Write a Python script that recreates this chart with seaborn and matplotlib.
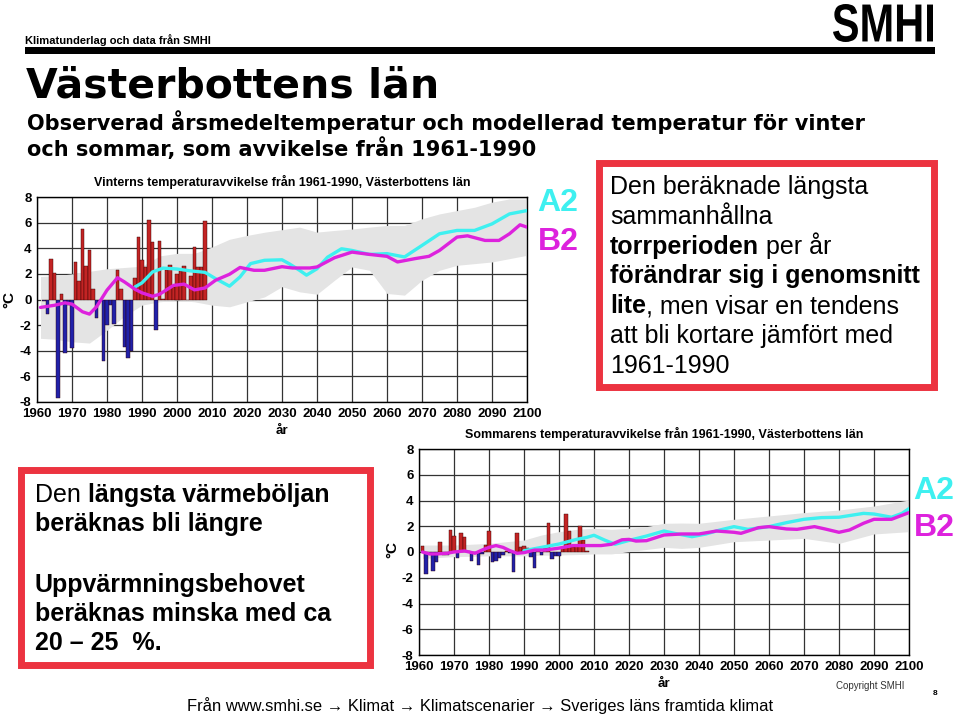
import matplotlib
matplotlib.use("Agg")
import matplotlib.pyplot as plt
import seaborn as sns
import numpy as np
import pandas as pd
from matplotlib.font_manager import FontProperties
from matplotlib.patches import Rectangle, PathPatch
from matplotlib.textpath import TextPath
from matplotlib.transforms import Affine2D

# --- vinter: observerade avvikelser (staplar) ---
vinter_ar = list(range(1962, 2009))
vinter_temp = [-0.1, -1.15, 3.2, 2.1, -7.7, 0.4, -4.15, -0.4, -3.75, 2.9,
               1.45, 5.5, 2.6, 3.9, 0.8, -1.45, -0.1, -4.8, -2.0, -0.4,
               -1.95, 2.3, 0.8, -3.7, -4.6, -4.0, 1.65, 4.9, 3.05, 2.55,
               6.2, 4.5, -2.35, 4.6, 0.05, 2.3, 2.7, 0.95, 2.0, 2.2,
               2.65, 0.0, 1.8, 4.1, 2.5, 2.5, 6.1]

# vinter: modellerat spann (grått band)
vinter_band_ar = [1961, 1965, 1970, 1975, 1980, 1985, 1990, 1995, 2000, 2005,
                  2010, 2015, 2020, 2025, 2030, 2035, 2040, 2045, 2050, 2055,
                  2060, 2065, 2070, 2075, 2080, 2085, 2090, 2095, 2100]
vinter_band_hog = [1.8, 1.85, 2.0, 2.2, 2.4, 2.5, 2.6, 3.4, 3.6, 3.6,
                   4.1, 4.7, 5.0, 5.25, 5.45, 5.65, 5.26, 5.39, 5.5, 5.65,
                   5.78, 5.78, 6.3, 6.68, 6.94, 7.2, 7.6, 7.85, 7.85]
vinter_band_lag = [-3.03, -3.1, -3.3, -3.4, -2.4, -1.3, -0.44, -0.18, -0.05, -0.18,
                   -0.44, -0.57, -0.18, 0.2, 1.0, 0.6, 0.41, 1.5, 2.54, 2.28,
                   0.47, 0.34, 1.5, 2.28, 2.67, 2.8, 2.93, 3.19, 3.45]

# vinter: scenario A2 och B2
vinter_a2_ar = [1988, 1990, 1993, 1996, 2000, 2004, 2008, 2011, 2015, 2018,
                2021, 2025, 2030, 2032, 2035, 2037, 2040, 2043, 2047, 2050,
                2055, 2060, 2065, 2070, 2075, 2080, 2085, 2090, 2095, 2100]
vinter_a2 = [0.98, 1.3, 2.15, 2.45, 2.38, 2.23, 2.12, 1.63, 1.04, 1.76,
             2.8, 3.06, 3.1, 2.8, 2.28, 1.9, 2.4, 3.3, 3.96, 3.83,
             3.52, 3.58, 3.32, 4.22, 5.13, 5.39, 5.39, 5.9, 6.68, 6.94]
vinter_b2_ar = [1961, 1965, 1968, 1970, 1973, 1975, 1977, 1980, 1983, 1985,
                1988, 1990, 1993, 1995, 1999, 2002, 2005, 2008, 2011, 2015,
                2018, 2022, 2025, 2030, 2033, 2038, 2040, 2045, 2050, 2055,
                2060, 2063, 2068, 2072, 2075, 2080, 2083, 2088, 2092, 2095,
                2098, 2100]
vinter_b2 = [-0.62, -0.45, -0.26, -0.36, -0.96, -1.14, -0.57, 0.73, 1.7, 1.37,
             0.8, 0.52, 0.25, 0.41, 1.1, 1.2, 0.75, 0.9, 1.5, 1.97,
             2.5, 2.28, 2.28, 2.56, 2.46, 2.46, 2.54, 3.26, 3.7, 3.52,
             3.37, 2.93, 3.19, 3.37, 3.83, 4.87, 4.97, 4.61, 4.61, 5.13,
             5.83, 5.65]

# --- sommar: observerade avvikelser (staplar) ---
sommar_ar = list(range(1961, 2009))
sommar_temp = [0.5, -1.7, -0.15, -1.5, -0.8, 0.78, -0.25, -0.2, 1.7, 1.24,
               -0.5, 1.45, 1.14, 0.1, -0.7, -0.1, -1.0, -0.15, 0.55, 1.63,
               -0.8, -0.7, -0.5, -0.2, 0.05, -0.05, -1.53, 1.5, 0.4, 0.45,
               0.3, -0.4, -1.27, 0.15, -0.23, 0.3, 2.23, -0.57, -0.3, -0.3,
               0.4, 2.95, 1.65, 0.4, 0.45, 2.0, 0.93, 0.1]

sommar_band_ar = [1961, 1970, 1980, 1985, 1990, 1995, 2000, 2005, 2010, 2015,
                  2020, 2025, 2030, 2035, 2040, 2050, 2060, 2070, 2080, 2090, 2100]
sommar_band_hog = [0.54, 0.54, 0.67, 0.8, 0.93, 1.32, 1.58, 1.76, 1.84, 1.76,
                   1.84, 1.97, 2.23, 2.25, 2.23, 2.54, 2.8, 3.06, 3.26, 3.57, 4.04]
sommar_band_lag = [-0.5, -0.36, -0.3, -0.3, -0.3, -0.25, -0.23, -0.2, -0.15, -0.15,
                   0.03, 0.2, 0.36, 0.28, 0.36, 0.8, 0.93, 1.06, 0.67, 1.4, 1.58]

sommar_a2_ar = [1990, 1995, 2000, 2005, 2008, 2010, 2013, 2016, 2020, 2025,
                2030, 2033, 2038, 2042, 2046, 2050, 2054, 2060, 2065, 2070,
                2075, 2080, 2087, 2090, 2095, 2098, 2100]
sommar_a2 = [0.1, 0.36, 0.62, 0.98, 1.14, 1.3, 0.93, 0.6, 0.9, 1.24,
             1.63, 1.45, 1.19, 1.4, 1.71, 1.97, 1.76, 1.97, 2.28, 2.54,
             2.67, 2.7, 3.0, 2.95, 2.7, 3.0, 3.37]
sommar_b2_ar = [1961, 1963, 1965, 1968, 1970, 1973, 1976, 1978, 1980, 1982,
                1984, 1986, 1988, 1990, 1993, 1996, 2000, 2004, 2008, 2012,
                2015, 2018, 2020, 2022, 2025, 2030, 2035, 2040, 2045, 2050,
                2052, 2057, 2060, 2065, 2068, 2073, 2076, 2080, 2083, 2087,
                2090, 2095, 2100]
sommar_b2 = [0.0, -0.15, -0.15, -0.1, 0.0, 0.08, -0.1, 0.15, 0.36, 0.5,
             0.36, 0.1, -0.1, -0.05, 0.15, 0.15, 0.3, 0.5, 0.5, 0.5,
             0.6, 0.95, 0.98, 0.85, 0.88, 1.32, 1.4, 1.4, 1.63, 1.53,
             1.45, 1.89, 1.97, 1.79, 1.76, 1.97, 1.79, 1.53, 1.71, 2.23,
             2.54, 2.54, 3.06]

W, H = 959, 716
FONT = ["Liberation Sans", "DejaVu Sans"]
TUNG = ["DejaVu Sans"]
ROD = "#dd0a0a"
BLA = "#0a0ac0"
GRA = "#e4e4e4"
CYAN = "#3ef0f0"
MAGENTA = "#dd22dd"
RAM = "#ec3340"

sns.set_style("white")
plt.rcParams["font.family"] = FONT
plt.rcParams["axes.unicode_minus"] = False
for k in ["text.color", "axes.labelcolor", "xtick.color", "ytick.color"]:
    plt.rcParams[k] = "black"

fig = plt.figure(figsize=(W / 100, H / 100), dpi=100)
renderer = fig.canvas.get_renderer()


def fx(x):
    return x / W


def fy(y):
    return 1 - y / H


def text_width(s, fp):
    w1 = renderer.get_text_width_height_descent("|" + s + "|", fp, ismath=False)[0]
    w0 = renderer.get_text_width_height_descent("||", fp, ismath=False)[0]
    return w1 - w0


def rich_line(x, y, runs, size):
    for s, fet in runs:
        fp = FontProperties(family=FONT, weight="bold" if fet else "normal", size=size)
        fig.text(fx(x), fy(y), s, fontproperties=fp, va="baseline", ha="left", zorder=10)
        x += text_width(s, fp)


def panel(ax, ar, temp, band_ar, lag, hog, a2_ar, a2, b2_ar, b2, titel):
    df = pd.DataFrame({"år": ar, "temp": temp})
    df["tecken"] = np.where(df["temp"] >= 0, "plus", "minus")
    ax.fill_between(band_ar, lag, hog, color=GRA, lw=0, zorder=1.5)
    sns.barplot(data=df, x="år", y="temp", hue="tecken",
                palette={"plus": ROD, "minus": BLA}, native_scale=True,
                dodge=False, width=1.0, errorbar=None, edgecolor="#300000",
                linewidth=0.3, legend=False, ax=ax)
    for p in ax.patches:
        p.set_zorder(2)
    sns.lineplot(x=a2_ar, y=a2, color=CYAN, lw=2.4, ax=ax, zorder=3)
    sns.lineplot(x=b2_ar, y=b2, color=MAGENTA, lw=2.4, ax=ax, zorder=3.5)

    ax.set_xlim(1960, 2100)
    ax.set_ylim(-8, 8)
    ax.set_xticks(range(1960, 2101, 10))
    ax.set_yticks(range(-8, 9, 2))
    ax.grid(True, color="#333333", lw=0.9)
    ax.set_axisbelow(True)
    ax.tick_params(length=0, pad=4, labelsize=9.5)
    for lbl in ax.get_xticklabels() + ax.get_yticklabels():
        lbl.set_fontweight("bold")
    for s in ax.spines.values():
        s.set_color("black")
        s.set_linewidth(1)
    ax.set_ylabel("")
    ax.set_xlabel("år", fontsize=9.5, fontweight="bold", labelpad=4)
    ax.set_title(titel, fontsize=9, fontweight="bold", pad=8)


ax1 = fig.add_axes([fx(37), fy(402), (527 - 37) / W, (402 - 197) / H])
panel(ax1, vinter_ar, vinter_temp, vinter_band_ar, vinter_band_lag, vinter_band_hog,
      vinter_a2_ar, vinter_a2, vinter_b2_ar, vinter_b2,
      "Vinterns temperaturavvikelse från 1961-1990, Västerbottens län")

ax2 = fig.add_axes([fx(419), fy(655), (909 - 419) / W, (655 - 449) / H])
panel(ax2, sommar_ar, sommar_temp, sommar_band_ar, sommar_band_lag, sommar_band_hog,
      sommar_a2_ar, sommar_a2, sommar_b2_ar, sommar_b2,
      "Sommarens temperaturavvikelse från 1961-1990, Västerbottens län")

# °C-etiketter
fig.text(fx(9), fy(300), "°C", rotation=90, ha="center", va="center",
         fontsize=11, fontweight="bold")
fig.text(fx(392), fy(550), "°C", rotation=90, ha="center", va="center",
         fontsize=11, fontweight="bold")

# scenariobeteckningar
for x, y1, y2 in [(558, 203, 242), (934, 491, 528)]:
    fig.text(fx(x), fy(y1), "A2", color=CYAN, ha="center", va="center",
             fontsize=23, fontweight="bold")
    fig.text(fx(x), fy(y2), "B2", color=MAGENTA, ha="center", va="center",
             fontsize=23, fontweight="bold")

# sidhuvud
fig.text(fx(25), fy(44), "Klimatunderlag och data från SMHI", fontsize=8,
         fontweight="bold", va="baseline")
fig.add_artist(Rectangle((fx(25), fy(54)), (935 - 25) / W, 7 / H,
                         transform=fig.transFigure, color="black", lw=0))
fig.text(fx(26), fy(97), "Västerbottens län", family=TUNG, fontsize=29.5,
         fontweight="bold", va="baseline")
fig.text(fx(27), fy(130), "Observerad årsmedeltemperatur och modellerad temperatur för vinter",
         family=TUNG, fontsize=15, fontweight="bold", va="baseline")
fig.text(fx(27), fy(156), "och sommar, som avvikelse från 1961-1990",
         family=TUNG, fontsize=15, fontweight="bold", va="baseline")

# SMHI-logga som utsträckt textbana
tp = TextPath((0, 0), "SMHI", size=1, prop=FontProperties(family=FONT, weight="bold"))
bb = tp.get_extents()
sx = (100 / W) / bb.width
sy = (38 / H) / bb.height
logo_tr = Affine2D().translate(-bb.x0, -bb.y0).scale(sx, sy).translate(fx(833), fy(42))
fig.add_artist(PathPatch(tp, transform=logo_tr + fig.transFigure, color="black", lw=0))

# textrutor
fig.add_artist(Rectangle((fx(598.5), fy(386.5)), (933.5 - 598.5) / W, (386.5 - 162.5) / H,
                         transform=fig.transFigure, facecolor="white",
                         edgecolor=RAM, lw=5, zorder=5))
fig.add_artist(Rectangle((fx(20.5), fy(664.5)), (369.5 - 20.5) / W, (664.5 - 469.5) / H,
                         transform=fig.transFigure, facecolor="white",
                         edgecolor=RAM, lw=5, zorder=5))

box1 = [
    [("Den beräknade längsta", False)],
    [("sammanhållna", False)],
    [("torrperioden", True), (" per år", False)],
    [("förändrar sig i genomsnitt", True)],
    [("lite", True), (", men visar en tendens", False)],
    [("att bli kortare jämfört med", False)],
    [("1961-1990", False)],
]
for i, runs in enumerate(box1):
    rich_line(610, 194 + i * 29.8, runs, 18)

box2 = [
    (502, [("Den ", False), ("längsta värmeböljan", True)]),
    (531, [("beräknas bli längre", True)]),
    (592, [("Uppvärmningsbehovet", True)]),
    (621, [("beräknas minska med ca", True)]),
    (650, [("20 – 25  %.", True)]),
]
for y, runs in box2:
    rich_line(35, y, runs, 18)

# sidfot
fig.text(fx(187), fy(711), "Från www.smhi.se → Klimat → Klimatscenarier → Sveriges läns framtida klimat",
         fontsize=11.9, va="baseline")
fig.text(fx(836), fy(689), "Copyright SMHI", fontsize=7, color="#333333", va="baseline")
fig.text(fx(933), fy(695), "8", fontsize=6, fontweight="bold", va="baseline")

fig.savefig("out.png", dpi=100)
